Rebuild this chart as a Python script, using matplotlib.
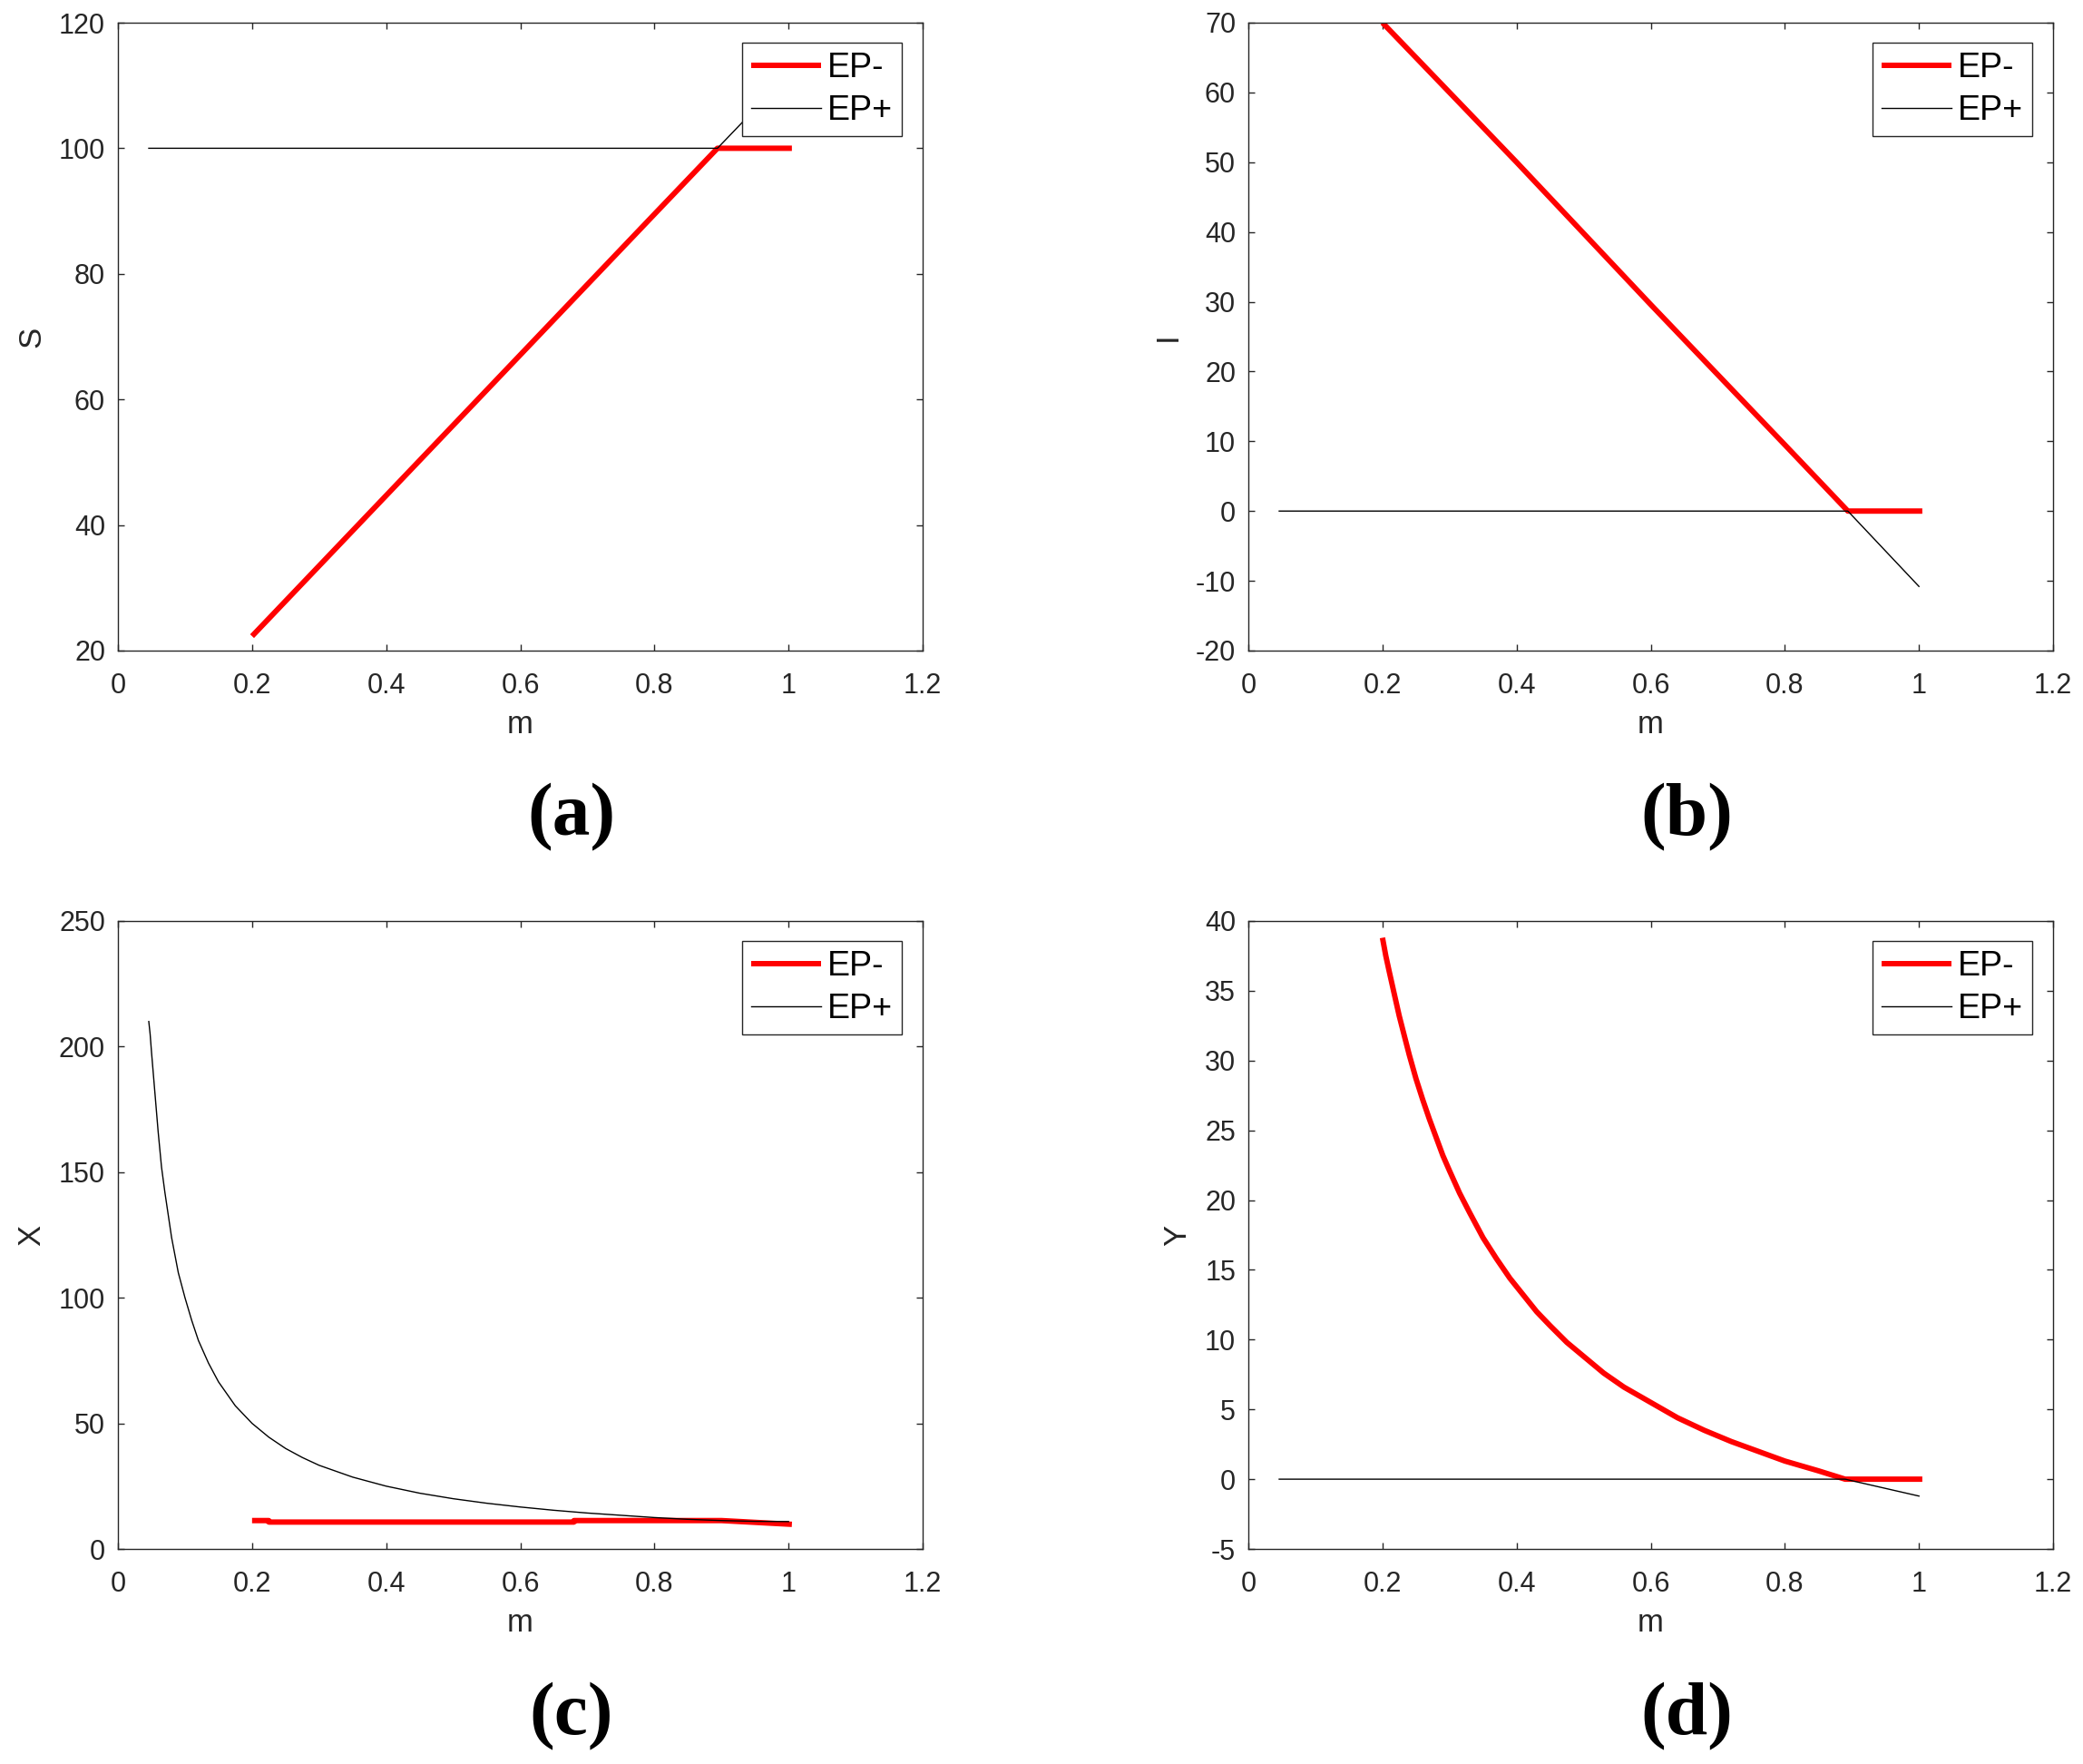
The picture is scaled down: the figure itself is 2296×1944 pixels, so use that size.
import matplotlib
matplotlib.use('Agg')
import matplotlib.pyplot as plt

plt.rcParams['font.family'] = ['Liberation Sans', 'DejaVu Sans']
plt.rcParams['axes.unicode_minus'] = False

# ---- data ----
# (a) S
a_red_m = [0.2, 0.4, 0.6, 0.8, 0.894, 1.005]
a_red_v = [22.3, 44.7, 67.1, 89.5, 100, 100]
a_blk_m = [0.046, 0.894, 1.0]
a_blk_v = [100, 100, 111.8]

# (b) I
b_red_m = [0.2, 0.4, 0.6, 0.8, 0.894, 1.005]
b_red_v = [70, 50.0, 29.6, 9.5, 0, 0]
b_blk_m = [0.046, 0.894, 1.0]
b_blk_v = [0, 0, -10.8]

# (c) X
c_red_m = [0.2, 0.225, 0.225, 0.68, 0.68, 0.9, 1.005]
c_red_v = [11.3, 11.3, 10.7, 10.7, 11.3, 11.3, 9.8]
c_blk_m = [0.046, 0.048, 0.05, 0.055, 0.06, 0.065, 0.07, 0.075, 0.08, 0.09,
           0.1, 0.11, 0.12, 0.135, 0.15, 0.175, 0.2, 0.225, 0.25, 0.275,
           0.3, 0.35, 0.4, 0.45, 0.5, 0.55, 0.6, 0.65, 0.7, 0.75,
           0.8, 0.85, 0.9, 0.95, 1.0]
c_blk_v = [210, 205, 198, 182, 166, 152, 142, 133, 124, 110,
           100, 91, 83, 74, 66.5, 57, 50, 44.5, 40, 36.4,
           33.3, 28.6, 25.0, 22.2, 20.0, 18.2, 16.7, 15.4, 14.3, 13.4,
           12.5, 11.8, 11.3, 11.0, 10.9]

# (d) Y
d_red_m = [0.2, 0.205, 0.21, 0.217, 0.225, 0.233, 0.24, 0.25, 0.26, 0.27,
           0.28, 0.29, 0.3, 0.315, 0.33, 0.35, 0.37, 0.39, 0.41, 0.43,
           0.45, 0.475, 0.5, 0.53, 0.56, 0.6, 0.64, 0.68, 0.72, 0.76,
           0.8, 0.85, 0.89, 1.005]
d_red_v = [38.8, 37.5, 36.4, 34.9, 33.2, 31.7, 30.4, 28.7, 27.2, 25.8,
           24.5, 23.2, 22.1, 20.5, 19.1, 17.3, 15.8, 14.4, 13.2, 12.0,
           11.0, 9.8, 8.8, 7.6, 6.6, 5.5, 4.4, 3.5, 2.7, 2.0,
           1.3, 0.6, 0, 0]
d_blk_m = [0.046, 0.89, 1.0]
d_blk_v = [0, 0, -1.21]

x_ticks = [0, 0.2, 0.4, 0.6, 0.8, 1, 1.2]
x_labels = ['0', '0.2', '0.4', '0.6', '0.8', '1', '1.2']

panels = [
    ('S', a_red_m, a_red_v, a_blk_m, a_blk_v, (20, 120), range(20, 121, 20), '(a)'),
    ('I', b_red_m, b_red_v, b_blk_m, b_blk_v, (-20, 70), range(-20, 71, 10), '(b)'),
    ('X', c_red_m, c_red_v, c_blk_m, c_blk_v, (0, 250), range(0, 251, 50), '(c)'),
    ('Y', d_red_m, d_red_v, d_blk_m, d_blk_v, (-5, 40), range(-5, 41, 5), '(d)'),
]

W, H = 2296, 1944
fig = plt.figure(figsize=(W / 100, H / 100), dpi=100)

# axes boxes in pixels: left, top
boxes = [(130, 25), (1376, 25), (130, 1015), (1376, 1015)]
aw, ah = 887, 692
tag_x = [630, 1859, 630, 1859]
tag_base = [920, 920, 1911, 1911]

ink = '#262626'

for i, (name, rm, rv, bm, bv, ylim, yt, tag) in enumerate(panels):
    l, t = boxes[i]
    ax = fig.add_axes([l / W, 1 - (t + ah) / H, aw / W, ah / H])
    ax.plot(rm, rv, color='#ff0000', lw=4.3, label='EP-', solid_capstyle='butt')
    ax.plot(bm, bv, color='black', lw=1.0, label='EP+')
    ax.set_xlim(0, 1.2)
    ax.set_ylim(*ylim)
    ax.set_xticks(x_ticks)
    ax.set_xticklabels(x_labels)
    ax.set_yticks(list(yt))
    ax.tick_params(direction='in', length=5, width=1, top=True, right=True,
                   labelsize=22, colors=ink)
    ax.tick_params(axis='x', pad=17)
    ax.tick_params(axis='y', pad=10)
    for sp in ax.spines.values():
        sp.set_color(ink)
        sp.set_linewidth(1.0)
    ax.set_xlabel('m', fontsize=25, color=ink, labelpad=8)
    ax.set_ylabel(name, fontsize=25, color=ink, labelpad=10)
    leg = ax.legend(loc='upper right', bbox_to_anchor=(0.974, 0.968),
                    borderaxespad=0, fontsize=27, fancybox=False,
                    framealpha=1, edgecolor=ink, handlelength=2.05,
                    handletextpad=0.19, borderpad=0.26, labelspacing=0.3)
    leg.get_frame().set_linewidth(1.0)

    fig.text(tag_x[i] / W, 1 - tag_base[i] / H, tag, ha='center', va='baseline',
             fontsize=60, fontweight='bold', family=['Liberation Serif', 'DejaVu Serif'])

fig.savefig('out.png', dpi=100)
